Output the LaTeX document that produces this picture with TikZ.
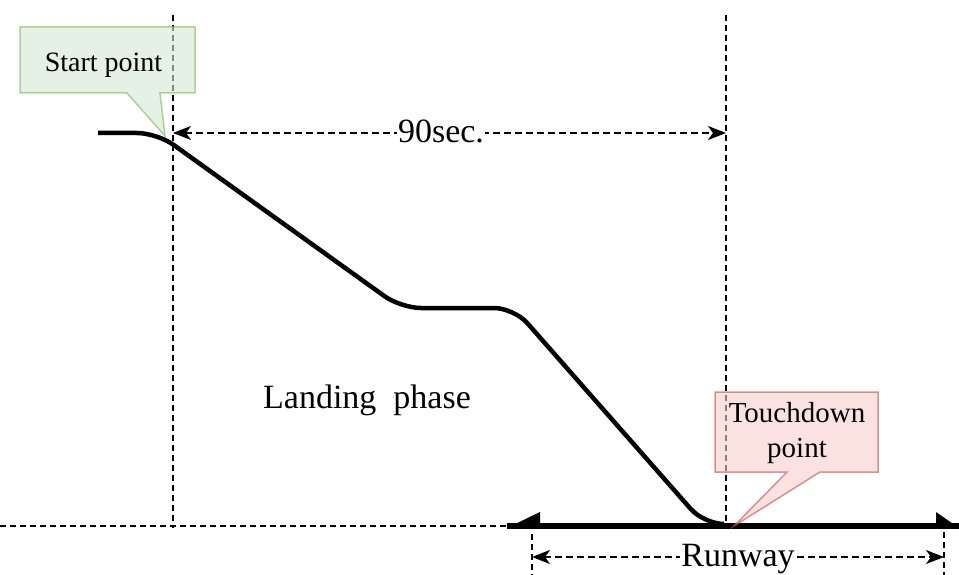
\documentclass[tikz,border=0pt]{standalone}
\usepackage{fontspec}
\setmainfont{Liberation Serif}
\usetikzlibrary{arrows.meta}
\definecolor{gfill}{HTML}{D5E8D4}
\definecolor{gdraw}{HTML}{82B366}
\definecolor{rfill}{HTML}{F8CECC}
\definecolor{rdraw}{HTML}{B85450}
\begin{document}
\begin{tikzpicture}[x=1pt,y=-1pt,
  dline/.style={line width=1.5pt, dash pattern=on 6pt off 4pt},
  dimtip/.tip={Stealth[length=18pt,width=14pt,inset=5pt]},
  dimarrow/.style={line width=1.5pt, dash pattern=on 7pt off 4pt, dimtip-dimtip},
  traj/.style={line width=4.5pt, rounded corners=20pt},
  callg/.style={fill=gfill, draw=gdraw, opacity=0.6, line width=1.5pt},
  callr/.style={fill=rfill, draw=rdraw, opacity=0.6, line width=1.5pt},
  lbl/.style={fill=white, inner sep=1pt, font=\fontsize{34}{40}\selectfont},
]
\useasboundingbox (0,0) rectangle (959,575);

% coordinates
\coordinate (vLtop) at (173,15);
\coordinate (vLbot) at (173,528);
\coordinate (vRtop) at (726,15);
\coordinate (vRbot) at (726,522);
\coordinate (gL) at (0,526);
\coordinate (gR) at (507,526);
\coordinate (rwL) at (507,526);
\coordinate (rwR) at (959,526);
\coordinate (secL) at (173,133);
\coordinate (secR) at (726,133);
\coordinate (rdimL) at (532,557);
\coordinate (rdimR) at (944,557);
\coordinate (rtL) at (532,534);
\coordinate (rbL) at (532,575);
\coordinate (rtR) at (944,532);
\coordinate (rbR) at (944,575);

% guide lines
\draw[dline] (vLtop) -- (vLbot);
\draw[dline] (vRtop) -- (vRbot);
\draw[dline] (gL) -- (gR);
\draw[dline] (rtL) -- (rbL);
\draw[dline] (rtR) -- (rbR);

% trajectory
\draw[traj] (98,133) -- (157,133) -- (401,308) -- (514,308) -- (704,524) -- (724,524);

% runway
\draw[line width=6pt] (rwL) -- (rwR);
\fill (507,528) -- (540,512) -- (540,526) -- cycle;
\fill (959,528) -- (936,512) -- (936,526) -- cycle;

% dimension arrows
\draw[dimarrow] (secL) -- (secR);
\node[lbl, anchor=base] (sec) at (441,143) {90sec.};
\draw[dimarrow] (rdimL) -- (rdimR);
\node[lbl, anchor=base] (rw) at (738,566) {Runway};

% callouts
\path[callg] (20,27) -- (195,27) -- (195,93) -- (160,93) -- (165,136) -- (127,93) -- (20,93) -- cycle;
\node[anchor=base, inner sep=0pt, font=\fontsize{28}{34}\selectfont] (start) at (103.5,72) {Start point};

\path[callr] (715,392) -- (878,392) -- (878,472) -- (820,472) -- (734,526) -- (787,472) -- (715,472) -- cycle;
\node[align=center, inner sep=0pt, font=\fontsize{29}{35}\selectfont] (touch) at (797,433.5) {Touchdown\\point};

% phase label
\node[anchor=base, inner sep=0pt, font=\fontsize{34}{40}\selectfont] (phase) at (367,408) {Landing\ \ phase};
\end{tikzpicture}
\end{document}
